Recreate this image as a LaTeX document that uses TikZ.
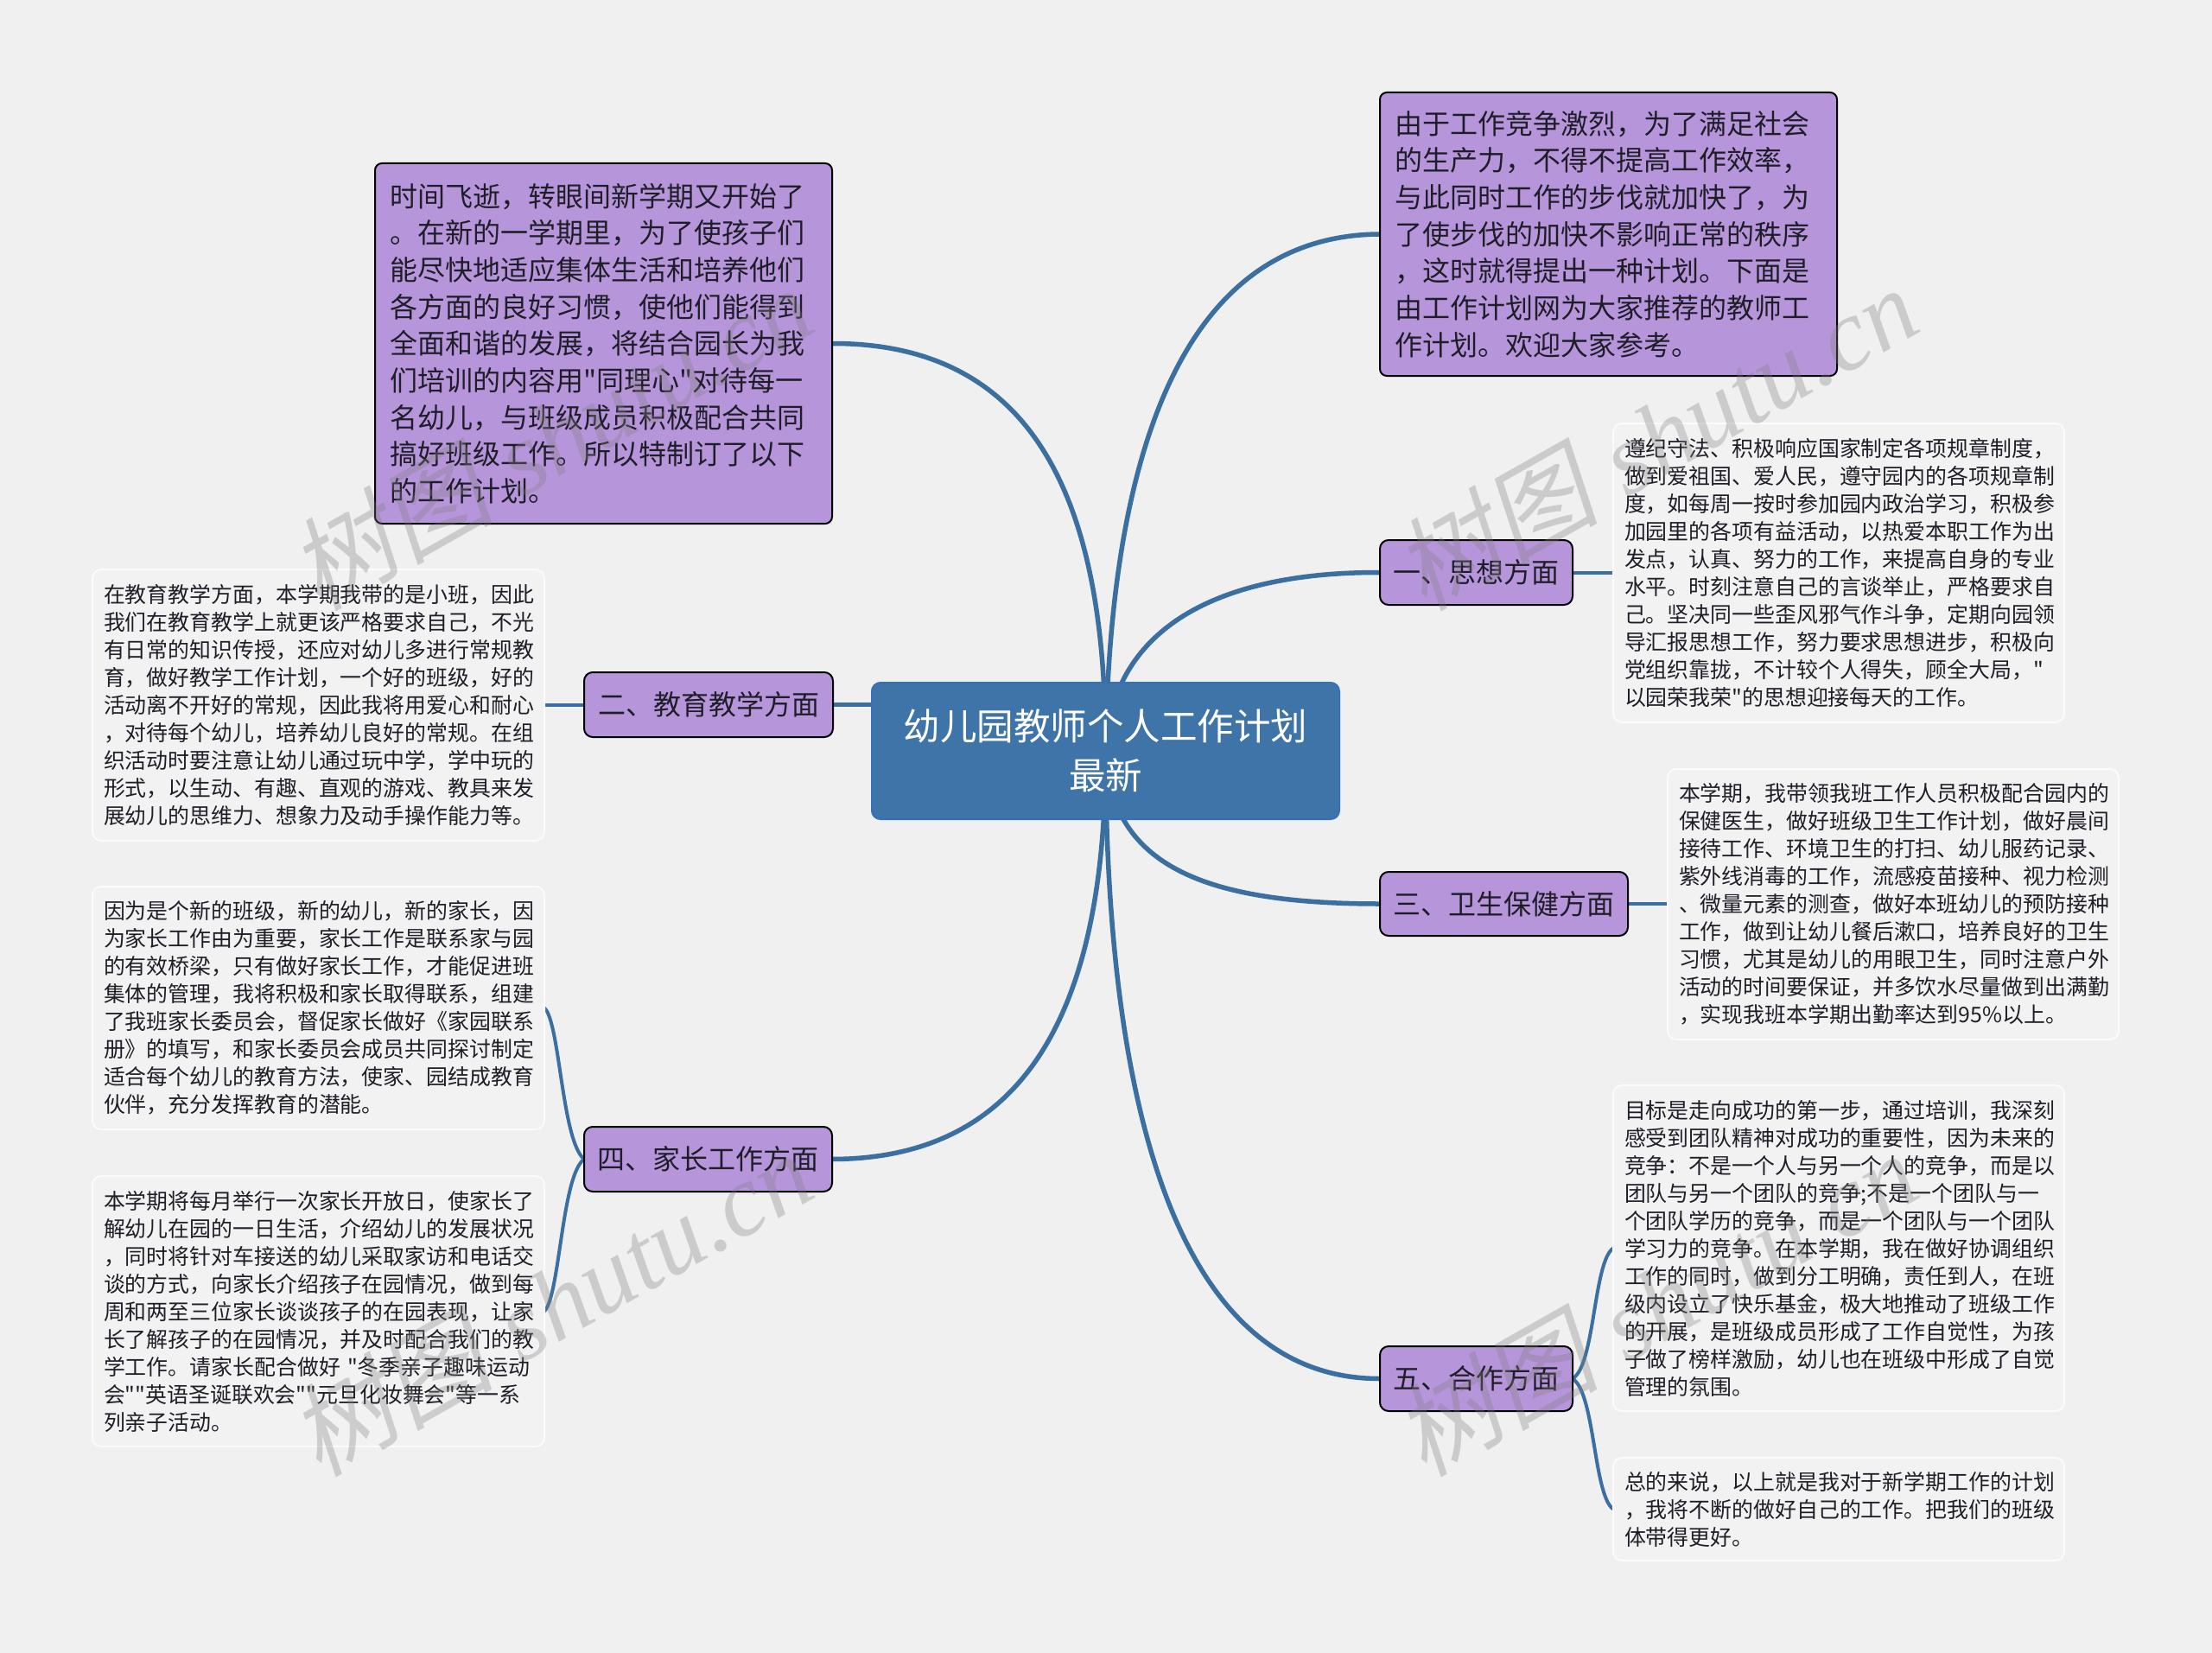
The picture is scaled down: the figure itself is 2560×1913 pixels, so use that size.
\documentclass[tikz,border=0pt]{standalone}
\usepackage{fontspec}
\setmainfont{Liberation Sans}
\newfontfamily\cjk{Noto Sans CJK SC}
\newfontfamily\wmcjk[FakeSlant=0.2]{Noto Sans CJK SC}
\newfontfamily\wmlat{Liberation Serif}
\definecolor{pagebg}{HTML}{F0F0F0}
\definecolor{rootfill}{HTML}{3E74A8}
\definecolor{rootline}{HTML}{3570C0}
\definecolor{linkblue}{HTML}{3A6F9F}
\definecolor{topicfill}{HTML}{B795DA}
\definecolor{notefill}{HTML}{F2F2F2}
\definecolor{inktext}{HTML}{1E1E28}
\pgfdeclarelayer{bg}
\pgfsetlayers{bg,main}
\tikzset{
  rootnode/.style={draw=rootline,fill=rootfill,line width=2pt,rounded corners=10pt,text=white,align=center,inner sep=0pt,outer sep=0pt,font=\cjk\fontsize{42.5}{57}\selectfont},
  topicbox/.style={draw=black,fill=topicfill,line width=2pt,rounded corners=10pt,text=inktext,align=center,inner sep=0pt,outer sep=0pt,font=\cjk\fontsize{32}{42.7}\selectfont},
  introbox/.style={draw=black,fill=topicfill,line width=2pt,rounded corners=8pt,text=inktext,align=left,inner xsep=17pt,inner ysep=0pt,outer sep=0pt,font=\cjk\fontsize{32}{42.7}\selectfont},
  notebox/.style={draw=white!70!notefill,fill=notefill,line width=2pt,rounded corners=10pt,text=inktext,align=left,inner xsep=13pt,inner ysep=0pt,outer sep=0pt,font=\cjk\fontsize{24.9}{32}\selectfont},
  mainlink/.style={draw=linkblue,line width=5.5pt},
  sublink/.style={draw=linkblue,line width=4pt},
  wmark/.style={text=black!50,opacity=0.32,rotate=29.5,inner sep=0pt,font=\fontsize{118}{118}\selectfont}
}
\begin{document}
\begin{tikzpicture}[x=1pt,y=-1pt]
\useasboundingbox (0,0) rectangle (2560,1913);
\begin{pgfonlayer}{bg}
\fill[pagebg] (0,0) rectangle (2560,1913);
\end{pgfonlayer}

\node[rootnode,anchor=north west,minimum width=541pt,minimum height=158pt] (root) at (1009,790) {幼儿园教师个人工作计划\\最新};

\node[introbox,anchor=north west,minimum width=529pt,minimum height=417pt,text width=495pt] (intL) at (434,189) {时间飞逝，转眼间新学期又开始了\\。在新的一学期里，为了使孩子们\\能尽快地适应集体生活和培养他们\\各方面的良好习惯，使他们能得到\\全面和谐的发展，将结合园长为我\\们培训的内容用"同理心"对待每一\\名幼儿，与班级成员积极配合共同\\搞好班级工作。所以特制订了以下\\的工作计划。};

\node[introbox,anchor=north west,minimum width=529pt,minimum height=328pt,text width=495pt] (intR) at (1597,107) {由于工作竞争激烈，为了满足社会\\的生产力，不得不提高工作效率，\\与此同时工作的步伐就加快了，为\\了使步伐的加快不影响正常的秩序\\，这时就得提出一种计划。下面是\\由工作计划网为大家推荐的教师工\\作计划。欢迎大家参考。};

\node[topicbox,anchor=north west,minimum width=223pt,minimum height=75pt] (t1) at (1597,625) {一、思想方面};
\node[topicbox,anchor=north west,minimum width=288pt,minimum height=75pt] (t2) at (676,778) {二、教育教学方面};
\node[topicbox,anchor=north west,minimum width=287pt,minimum height=74pt] (t3) at (1597,1009) {三、卫生保健方面};
\node[topicbox,anchor=north west,minimum width=287pt,minimum height=75pt] (t4) at (676,1304) {四、家长工作方面};
\node[topicbox,anchor=north west,minimum width=223pt,minimum height=75pt] (t5) at (1597,1558) {五、合作方面};

\node[notebox,anchor=north west,minimum width=522pt,minimum height=346pt,text width=496pt] (n1) at (1867,490) {遵纪守法、积极响应国家制定各项规章制度，\\做到爱祖国、爱人民，遵守园内的各项规章制\\度，如每周一按时参加园内政治学习，积极参\\加园里的各项有益活动，以热爱本职工作为出\\发点，认真、努力的工作，来提高自身的专业\\水平。时刻注意自己的言谈举止，严格要求自\\己。坚决同一些歪风邪气作斗争，定期向园领\\导汇报思想工作，努力要求思想进步，积极向\\党组织靠拢，不计较个人得失，顾全大局，"\\以园荣我荣"的思想迎接每天的工作。};

\node[notebox,anchor=north west,minimum width=523pt,minimum height=314pt,text width=497pt] (n2) at (107,659) {在教育教学方面，本学期我带的是小班，因此\\我们在教育教学上就更该严格要求自己，不光\\有日常的知识传授，还应对幼儿多进行常规教\\育，做好教学工作计划，一个好的班级，好的\\活动离不开好的常规，因此我将用爱心和耐心\\，对待每个幼儿，培养幼儿良好的常规。在组\\织活动时要注意让幼儿通过玩中学，学中玩的\\形式，以生动、有趣、直观的游戏、教具来发\\展幼儿的思维力、想象力及动手操作能力等。};

\node[notebox,anchor=north west,minimum width=522pt,minimum height=313pt,text width=496pt] (n3) at (1930,890) {本学期，我带领我班工作人员积极配合园内的\\保健医生，做好班级卫生工作计划，做好晨间\\接待工作、环境卫生的打扫、幼儿服药记录、\\紫外线消毒的工作，流感疫苗接种、视力检测\\、微量元素的测查，做好本班幼儿的预防接种\\工作，做到让幼儿餐后漱口，培养良好的卫生\\习惯，尤其是幼儿的用眼卫生，同时注意户外\\活动的时间要保证，并多饮水尽量做到出满勤\\，实现我班本学期出勤率达到95\%以上。};

\node[notebox,anchor=north west,minimum width=523pt,minimum height=281pt,text width=497pt] (n4a) at (107,1026) {因为是个新的班级，新的幼儿，新的家长，因\\为家长工作由为重要，家长工作是联系家与园\\的有效桥梁，只有做好家长工作，才能促进班\\集体的管理，我将积极和家长取得联系，组建\\了我班家长委员会，督促家长做好《家园联系\\册》的填写，和家长委员会成员共同探讨制定\\适合每个幼儿的教育方法，使家、园结成教育\\伙伴，充分发挥教育的潜能。};

\node[notebox,anchor=north west,minimum width=523pt,minimum height=313pt,text width=497pt] (n4b) at (107,1361) {本学期将每月举行一次家长开放日，使家长了\\解幼儿在园的一日生活，介绍幼儿的发展状况\\，同时将针对车接送的幼儿采取家访和电话交\\谈的方式，向家长介绍孩子在园情况，做到每\\周和两至三位家长谈谈孩子的在园表现，让家\\长了解孩子的在园情况，并及时配合我们的教\\学工作。请家长配合做好 "冬季亲子趣味运动\\会""英语圣诞联欢会""元旦化妆舞会"等一系\\列亲子活动。};

\node[notebox,anchor=north west,minimum width=522pt,minimum height=377pt,text width=496pt] (n5a) at (1867,1256) {目标是走向成功的第一步，通过培训，我深刻\\感受到团队精神对成功的重要性，因为未来的\\竞争：不是一个人与另一个人的竞争，而是以\\团队与另一个团队的竞争;不是一个团队与一\\个团队学历的竞争，而是一个团队与一个团队\\学习力的竞争。在本学期，我在做好协调组织\\工作的同时，做到分工明确，责任到人，在班\\级内设立了快乐基金，极大地推动了班级工作\\的开展，是班级成员形成了工作自觉性，为孩\\子做了榜样激励，幼儿也在班级中形成了自觉\\管理的氛围。};

\node[notebox,anchor=north west,minimum width=522pt,minimum height=119pt,text width=496pt] (n5b) at (1867,1687) {总的来说，以上就是我对于新学期工作的计划\\，我将不断的做好自己的工作。把我们的班级\\体带得更好。};

\begin{pgfonlayer}{bg}
\draw[mainlink] (root.center) .. controls (1280,600) and (1210,397) .. (intL.east);
\draw[mainlink] (root.center) .. controls (1285,480) and (1390,272) .. (intR.west);
\draw[mainlink] (root.center) .. controls (1285,740) and (1390,662) .. (t1.west);
\draw[mainlink] (root.center) .. controls (1285,1000) and (1390,1046) .. (t3.west);
\draw[mainlink] (root.center) .. controls (1280,1180) and (1180,1341) .. (t4.east);
\draw[mainlink] (root.center) .. controls (1280,1300) and (1370,1596) .. (t5.west);
\draw[mainlink] (t2.east) -- (t2.east -| root.west);
\draw[sublink] (t1.east) -- (n1.west |- t1.east);
\draw[sublink] (n2.east |- t2.west) -- (t2.west);
\draw[sublink] (t3.east) -- (n3.west |- t3.east);
\draw[sublink] (t4.west) .. controls (650,1320) and (648,1182) .. (n4a.east);
\draw[sublink] (t4.west) .. controls (650,1360) and (648,1500) .. (n4b.east);
\draw[sublink] (t5.east) .. controls (1846,1580) and (1844,1460) .. (n5a.west);
\draw[sublink] (t5.east) .. controls (1846,1612) and (1844,1730) .. (n5b.west);
\end{pgfonlayer}

\node[wmark] (w1) at (637,506) {{\wmcjk 树图} {\wmlat\itshape shutu.cn}};
\node[wmark] (w2) at (1916,506) {{\wmcjk 树图} {\wmlat\itshape shutu.cn}};
\node[wmark] (w3) at (637,1508) {{\wmcjk 树图} {\wmlat\itshape shutu.cn}};
\node[wmark] (w4) at (1916,1508) {{\wmcjk 树图} {\wmlat\itshape shutu.cn}};
\end{tikzpicture}
\end{document}
